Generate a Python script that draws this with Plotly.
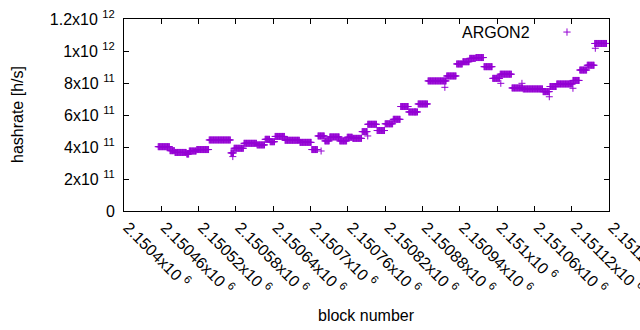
import numpy as np
import plotly.graph_objects as go

# Step segments: start block of each run and hashrate (x1e11 h/s)
seg_start = [2150455, 2150474, 2150482, 2150501, 2150505, 2150517, 2150537, 2150572,
             2150577, 2150593, 2150614, 2150627, 2150635, 2150643, 2150659, 2150683,
             2150702, 2150712, 2150723, 2150731, 2150747, 2150759, 2150768, 2150783,
             2150792, 2150807, 2150820, 2150833, 2150845, 2150858, 2150873, 2150889,
             2150919, 2150935, 2150945, 2150956, 2150966, 2150979, 2150993, 2151005,
             2151024, 2151042, 2151074, 2151085, 2151096, 2151122, 2151133, 2151145,
             2151157]
seg_end_block = 2151177
seg_value = [4.02, 3.77, 3.66, 3.56, 3.75, 3.84, 4.44, 3.63,
             3.92, 4.23, 4.13, 4.48, 4.33, 4.66, 4.42, 4.29,
             3.84, 4.69, 4.38, 4.63, 4.38, 4.61, 4.54, 4.96,
             5.42, 5.03, 5.45, 5.73, 6.53, 6.19, 6.69, 8.13,
             8.44, 9.19, 9.33, 9.54, 9.59, 9.02, 8.29, 8.55,
             7.69, 7.63, 7.46, 7.78, 7.94, 8.16, 8.81, 9.11,
             10.47]
# Isolated points off the runs
out_block = [2150575, 2150717, 2150792, 2150868, 2150916, 2151006, 2151040, 2151084, 2151122, 2151158]
out_value = [3.40, 3.75, 4.69, 6.20, 7.73, 7.98, 7.98, 7.14, 7.67, 10.17]

x_tick_vals = [2150400, 2150460, 2150520, 2150580, 2150640, 2150700, 2150760,
               2150820, 2150880, 2150940, 2151000, 2151060, 2151120, 2151180]
x_tick_mant = ["2.1504", "2.15046", "2.15052", "2.15058", "2.15064", "2.1507", "2.15076",
               "2.15082", "2.15088", "2.15094", "2.151", "2.15106", "2.15112", "2.15118"]
y_tick_vals = [0, 2e11, 4e11, 6e11, 8e11, 1e12, 1.2e12]
y_tick_text = ["0", "2x10 <sup>11</sup>", "4x10 <sup>11</sup>", "6x10 <sup>11</sup>",
               "8x10 <sup>11</sup>", "1x10 <sup>12</sup>", "1.2x10 <sup>12</sup>"]

# expand runs to one point per block
ends = seg_start[1:] + [seg_end_block]
xs, ys = [], []
for s, e, v in zip(seg_start, ends, seg_value):
    blocks = list(range(s, e))
    xs += blocks
    ys += [v * 1e11] * len(blocks)
xs += out_block
ys += [v * 1e11 for v in out_value]

COL = "#9400D3"
FONT = "Liberation Sans"

fig = go.Figure()
fig.add_trace(go.Scatter(
    x=xs, y=ys, mode="markers", name="ARGON2", showlegend=False,
    marker=dict(symbol="cross-thin", size=5, line=dict(color=COL, width=1), color=COL),
))

fig.update_layout(
    width=640, height=330,
    margin=dict(l=124, r=31, t=19, b=119),
    paper_bgcolor="white", plot_bgcolor="white",
    font=dict(family=FONT, size=16, color="black"),
    xaxis=dict(
        range=[2150400, 2151180], tickvals=x_tick_vals,
        ticktext=[m + "x10 <sup>6</sup>" for m in x_tick_mant],
        tickangle=45, ticks="inside", ticklen=5, tickcolor="black",
        tickfont=dict(size=16), ticklabelshift=4, ticklabeloverflow="allow",
        showline=True, linecolor="black", linewidth=1, mirror="allticks",
        showgrid=False, zeroline=False, automargin=False,
    ),
    yaxis=dict(
        range=[0, 1.2e12], tickvals=y_tick_vals, ticktext=y_tick_text,
        ticks="inside", ticklen=5, tickcolor="black",
        tickfont=dict(size=16), ticklabelstandoff=5,
        showline=True, linecolor="black", linewidth=1, mirror="allticks",
        showgrid=False, zeroline=False, automargin=False,
    ),
    annotations=[
        dict(text="ARGON2", xref="paper", yref="paper", x=0.841, y=0.932,
             xanchor="right", yanchor="middle", showarrow=False),
        dict(text="block number", xref="paper", yref="paper", x=0.5, y=-0.5417,
             xanchor="center", yanchor="middle", showarrow=False),
        dict(text="hashrate [h/s]", xref="paper", yref="paper", x=-0.2206, y=0.5,
             xanchor="center", yanchor="middle", textangle=-90, showarrow=False),
    ],
    shapes=[
        dict(type="line", xref="paper", yref="paper", x0=0.9134 - 0.0075, x1=0.9134 + 0.0075,
             y0=0.932, y1=0.932, line=dict(color=COL, width=1)),
        dict(type="line", xref="paper", yref="paper", x0=0.9134, x1=0.9134,
             y0=0.932 - 0.019, y1=0.932 + 0.019, line=dict(color=COL, width=1)),
    ],
)

fig.write_html("out.html", config={"displayModeBar": False},
               post_script="document.body.style.margin='0px';")
